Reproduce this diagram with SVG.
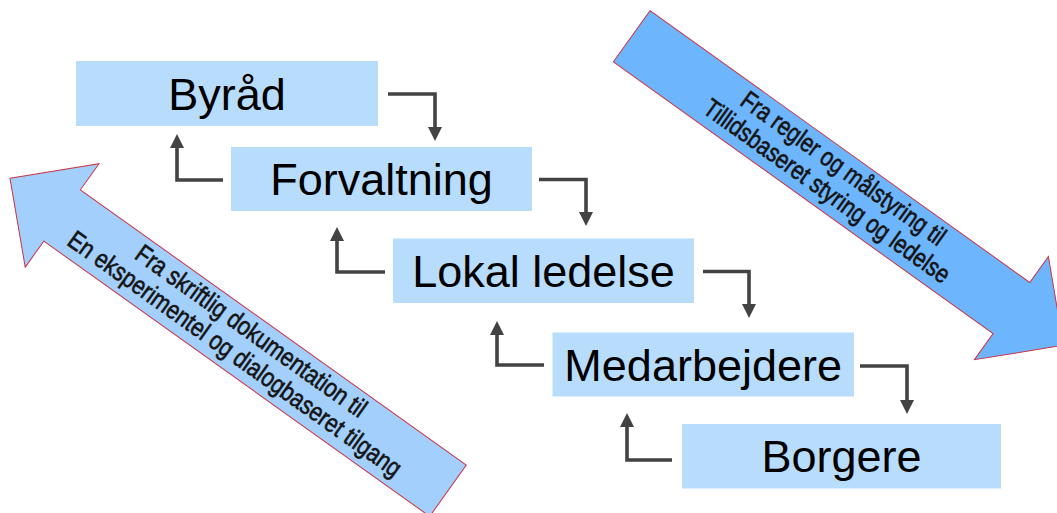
<svg xmlns="http://www.w3.org/2000/svg" width="1057" height="513" viewBox="0 0 1057 513">
  <style>
    .box { fill: #b8dcfc; }
    .lbl { font-family: "Liberation Sans", Arial, sans-serif; font-size: 45px; fill: #000; text-anchor: middle; }
    .conn { fill: none; stroke: #434343; stroke-width: 3.6; stroke-linejoin: miter; }
    .big { stroke: #cc3344; stroke-width: 1; }
    .atxt { font-family: "Liberation Sans", Arial, sans-serif; font-size: 26px; fill: #141414; stroke: #141414; stroke-width: 0.6; text-anchor: middle; }
  </style>
  <defs>
    <marker id="ah" markerUnits="userSpaceOnUse" markerWidth="15" markerHeight="15" viewBox="0 0 15 15" refX="4" refY="7.5" orient="auto">
      <path d="M0,0.5 L14,7.5 L0,14.5 Z" fill="#434343"/>
    </marker>
  </defs>
  <rect width="1057" height="513" fill="#ffffff"/>

  <g id="arrow-right" transform="translate(631.7,36.2) rotate(35.6)">
    <polygon class="big" fill="#6db5fd" points="0,-31.5 467,-31.5 467,-63.5 531,0 467,63.5 467,31.5 0,31.5"/>
    <text class="atxt" x="249" y="-7" textLength="245" lengthAdjust="spacingAndGlyphs">Fra regler og målstyring til</text>
    <text class="atxt" x="249" y="21" textLength="296" lengthAdjust="spacingAndGlyphs">Tillidsbaseret styring og ledelse</text>
  </g>

  <g id="arrow-left" transform="translate(10,178.3) rotate(35.5)">
    <polygon class="big" fill="#a2cffc" points="0,0 64,-63.5 64,-31.5 538,-31.5 538,31.5 64,31.5 64,63.5"/>
    <text class="atxt" x="285" y="-7" textLength="277" lengthAdjust="spacingAndGlyphs">Fra skriftlig dokumentation til</text>
    <text class="atxt" x="285" y="21" textLength="403" lengthAdjust="spacingAndGlyphs">En eksperimentel og dialogbaseret tilgang</text>
  </g>

  <g id="connectors">
    <path class="conn" marker-end="url(#ah)" d="M388,94 H435 V131"/>
    <path class="conn" marker-end="url(#ah)" d="M539,179.5 H586 V216"/>
    <path class="conn" marker-end="url(#ah)" d="M703,271.5 H749 V308"/>
    <path class="conn" marker-end="url(#ah)" d="M860,366 H907 V404"/>
    <path class="conn" marker-end="url(#ah)" d="M223,180 H177 V144"/>
    <path class="conn" marker-end="url(#ah)" d="M385,272 H337 V237"/>
    <path class="conn" marker-end="url(#ah)" d="M544,365 H497 V331"/>
    <path class="conn" marker-end="url(#ah)" d="M672,460 H627 V423"/>
  </g>

  <g id="byraad">
    <rect class="box" x="76" y="61" width="302" height="65"/>
    <text class="lbl" x="227" y="109.5">Byråd</text>
  </g>
  <g id="forvaltning">
    <rect class="box" x="231" y="147" width="301" height="64"/>
    <text class="lbl" x="381.5" y="195">Forvaltning</text>
  </g>
  <g id="lokal-ledelse">
    <rect class="box" x="393" y="238.5" width="301" height="64.5"/>
    <text class="lbl" x="543.5" y="286.8">Lokal ledelse</text>
  </g>
  <g id="medarbejdere">
    <rect class="box" x="552.5" y="332.5" width="301.5" height="64"/>
    <text class="lbl" x="703.2" y="380.6">Medarbejdere</text>
  </g>
  <g id="borgere">
    <rect class="box" x="682" y="424" width="319" height="64.5"/>
    <text class="lbl" x="841.5" y="472.3">Borgere</text>
  </g>
</svg>
